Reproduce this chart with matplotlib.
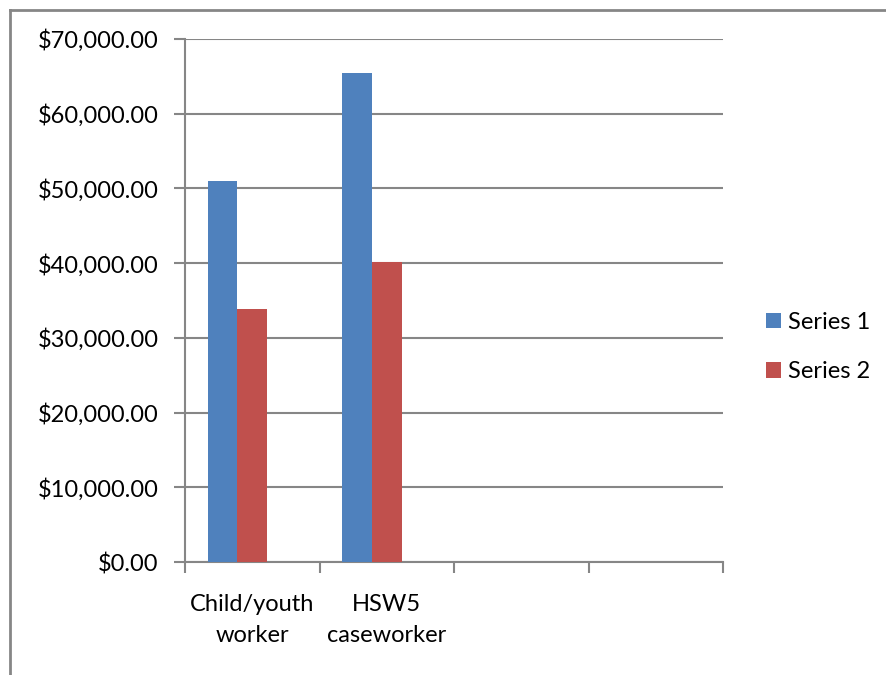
import matplotlib
matplotlib.use("Agg")
import matplotlib.pyplot as plt
from matplotlib.lines import Line2D
from matplotlib.patches import Patch
from matplotlib.ticker import FuncFormatter, MultipleLocator
import numpy as np

categories = ["Child/youth\nworker", "HSW5\ncaseworker", "", ""]
series1 = [51000, 65400, None, None]
series2 = [33900, 40100, None, None]
series_names = ["Series 1", "Series 2"]
colors = ["#4F81BD", "#C0504D"]
grid_color = "#868686"

plt.rcParams['font.family'] = ['Lato', 'DejaVu Sans']
FS = 17

fig = plt.figure(figsize=(8.86, 6.75), dpi=100)
ax = fig.add_axes([185/886, 1-562/675, 538/886, 523/675])

x = np.arange(len(categories))
w = 0.221
for i, (vals, c, name) in enumerate(zip([series1, series2], colors, series_names)):
    xs = [xi + (i - 1) * w for xi, v in zip(x, vals) if v is not None]
    vs = [v for v in vals if v is not None]
    ax.bar(xs, vs, width=w, color=c, label=name, zorder=3, linewidth=0)

ax.set_xlim(-0.5, len(categories) - 0.5)
ax.set_ylim(0, 70000)
ax.yaxis.set_major_locator(MultipleLocator(10000))
ax.yaxis.set_major_formatter(FuncFormatter(lambda v, p: "${:,.2f}".format(v)))
ax.grid(axis='y', color=grid_color, linewidth=1.5, zorder=0)

ax.set_xticks(np.arange(-0.5, len(categories)), [""] * (len(categories) + 1))
ax.set_xticks(x, categories, minor=True)
ax.tick_params(axis='x', which='minor', length=0, pad=23, labelsize=FS)
for t in ax.get_xticklabels(minor=True):
    t.set_linespacing(1.6)
ax.tick_params(axis='x', which='major', length=8, width=1.5, color=grid_color)
ax.tick_params(axis='y', length=8, width=1.5, color=grid_color, pad=11, labelsize=FS)

for s in ['top', 'right']:
    ax.spines[s].set_visible(False)
for s in ['left', 'bottom']:
    ax.spines[s].set_color(grid_color)
    ax.spines[s].set_linewidth(1.5)

handles = [Patch(facecolor=c, edgecolor='none') for c in colors]
fig.legend(handles, series_names, loc='center left',
           bbox_to_anchor=(766/886, 1-347/675), frameon=False,
           fontsize=FS, handlelength=0.64, handleheight=0.64,
           handletextpad=0.3, labelspacing=1.2, borderpad=0, borderaxespad=0)

# outer chart frame (left and top edges)
fig.add_artist(Line2D([10/886, 10/886], [0, 1-10/675], color=grid_color, linewidth=2, transform=fig.transFigure))
fig.add_artist(Line2D([10/886, 1], [1-10/675, 1-10/675], color=grid_color, linewidth=2, transform=fig.transFigure))

fig.savefig("out.png", dpi=100)
